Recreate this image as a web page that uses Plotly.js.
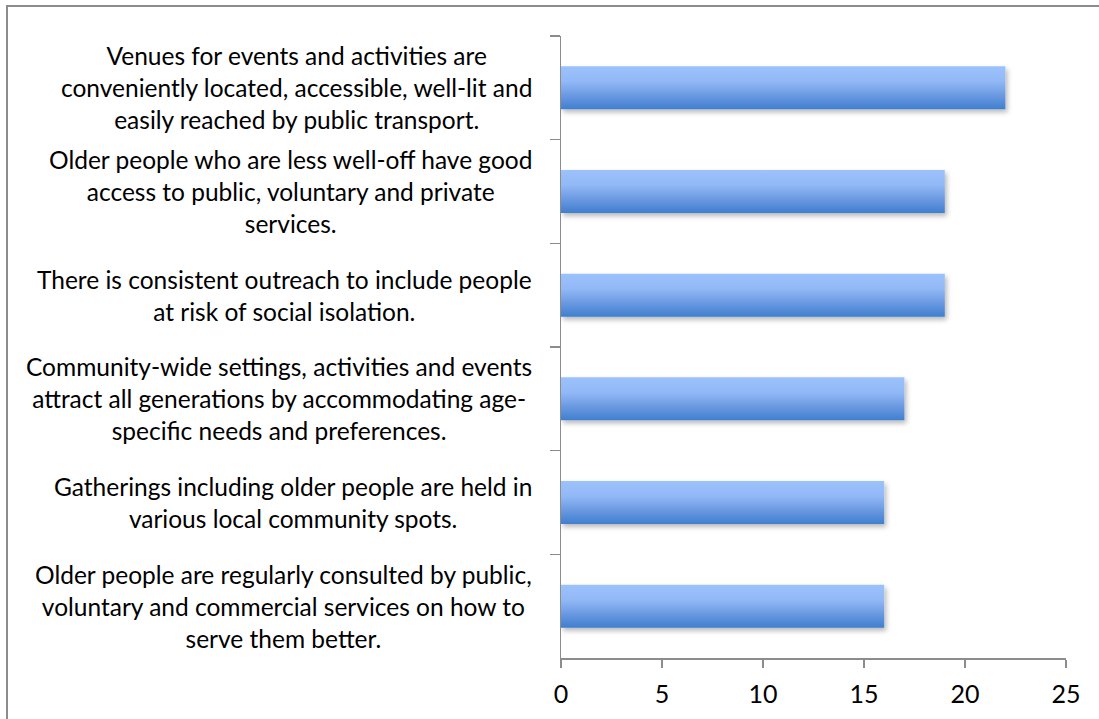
<!DOCTYPE html>
<html>
<head>
<meta charset="utf-8">
<script src="https://cdn.plot.ly/plotly-3.0.1.min.js"></script>
<style>
  html, body { margin: 0; padding: 0; background: #fff; }
  #chart { width: 1099px; height: 719px; }
</style>
</head>
<body>
<div id="chart"></div>
<script>
const categories = [
  "Venues for events and activities are<br>conveniently located, accessible, well-lit and<br>easily reached by public transport.",
  "Older people who are less well-off have good<br>access to public, voluntary and private<br>services.",
  "There is consistent outreach to include people<br>at risk of social isolation.",
  "Community-wide settings, activities and events<br>attract all generations by accommodating age-<br>specific needs and preferences.",
  "Gatherings including older people are held in<br>various local community spots.",
  "Older people are regularly consulted by public,<br>voluntary and commercial services on how to<br>serve them better."
];
const values = [22, 19, 19, 17, 16, 16];
const xTicks = [0, 5, 10, 15, 20, 25];

const fontFam = "Lato, 'Open Sans', sans-serif";

const trace = {
  type: "bar",
  orientation: "h",
  y: categories,
  x: values,
  marker: { color: "#6f9fe4", line: { width: 0 } },
  hoverinfo: "none"
};

const labelAnnotations = categories.map(function (c) {
  return {
    xref: "paper", yref: "y",
    x: 0, y: c,
    xanchor: "right", yanchor: "middle",
    xshift: -27,
    text: c,
    align: "center",
    showarrow: false,
    font: { family: fontFam, size: 24.5, color: "#000" }
  };
});

const layout = {
  width: 1099,
  height: 719,
  margin: { l: 561, r: 33, t: 36, b: 61 },
  paper_bgcolor: "#ffffff",
  plot_bgcolor: "#ffffff",
  showlegend: false,
  bargap: 0.585,
  font: { family: fontFam, size: 24, color: "#000" },
  xaxis: {
    range: [0, 25],
    tickvals: xTicks,
    ticktext: xTicks.map(String),
    showgrid: false,
    zeroline: false,
    showline: true,
    linecolor: "#8c8c8c",
    linewidth: 1.5,
    ticks: "outside",
    ticklen: 8,
    tickwidth: 1.5,
    tickcolor: "#8c8c8c",
    ticklabelstandoff: 5,
    tickfont: { family: fontFam, size: 25, color: "#000" }
  },
  yaxis: {
    type: "category",
    autorange: "reversed",
    showgrid: false,
    zeroline: false,
    showline: true,
    linecolor: "#8c8c8c",
    linewidth: 1.5,
    ticks: "outside",
    tickson: "boundaries",
    ticklen: 10,
    tickwidth: 1.5,
    tickcolor: "#8c8c8c",
    showticklabels: false
  },
  annotations: labelAnnotations,
  shapes: [{
    type: "rect",
    xref: "paper", yref: "paper",
    xsizemode: "pixel", ysizemode: "pixel",
    xanchor: 0, yanchor: 1,
    x0: -554, x1: 700,
    y0: 30, y1: -900,
    line: { color: "#8c8c8c", width: 2 },
    fillcolor: "rgba(0,0,0,0)",
    layer: "above"
  }]
};

Plotly.newPlot("chart", [trace], layout, { staticPlot: true, displayModeBar: false }).then(function (gd) {
  const svg = gd.querySelector("svg.main-svg");
  const ns = "http://www.w3.org/2000/svg";
  let defs = svg.querySelector("defs");
  if (!defs) { defs = document.createElementNS(ns, "defs"); svg.insertBefore(defs, svg.firstChild); }
  const grad = document.createElementNS(ns, "linearGradient");
  grad.setAttribute("id", "barGrad");
  grad.setAttribute("x1", "0"); grad.setAttribute("y1", "0");
  grad.setAttribute("x2", "0"); grad.setAttribute("y2", "1");
  [["0", "#9bc2fc"], ["0.35", "#92b9f6"], ["0.7", "#6897e0"], ["1", "#3f7fcf"]].forEach(function (s) {
    const st = document.createElementNS(ns, "stop");
    st.setAttribute("offset", s[0]);
    st.setAttribute("stop-color", s[1]);
    grad.appendChild(st);
  });
  defs.appendChild(grad);
  const filt = document.createElementNS(ns, "filter");
  filt.setAttribute("id", "barShadow");
  filt.setAttribute("x", "-5%"); filt.setAttribute("y", "-20%");
  filt.setAttribute("width", "115%"); filt.setAttribute("height", "160%");
  const sh = document.createElementNS(ns, "feDropShadow");
  sh.setAttribute("dx", "2"); sh.setAttribute("dy", "3");
  sh.setAttribute("stdDeviation", "2.5");
  sh.setAttribute("flood-color", "#000"); sh.setAttribute("flood-opacity", "0.28");
  filt.appendChild(sh);
  defs.appendChild(filt);
  gd.querySelectorAll(".barlayer .point path").forEach(function (p) {
    p.style.fill = "url(#barGrad)";
    p.setAttribute("filter", "url(#barShadow)");
  });
});
</script>
</body>
</html>
